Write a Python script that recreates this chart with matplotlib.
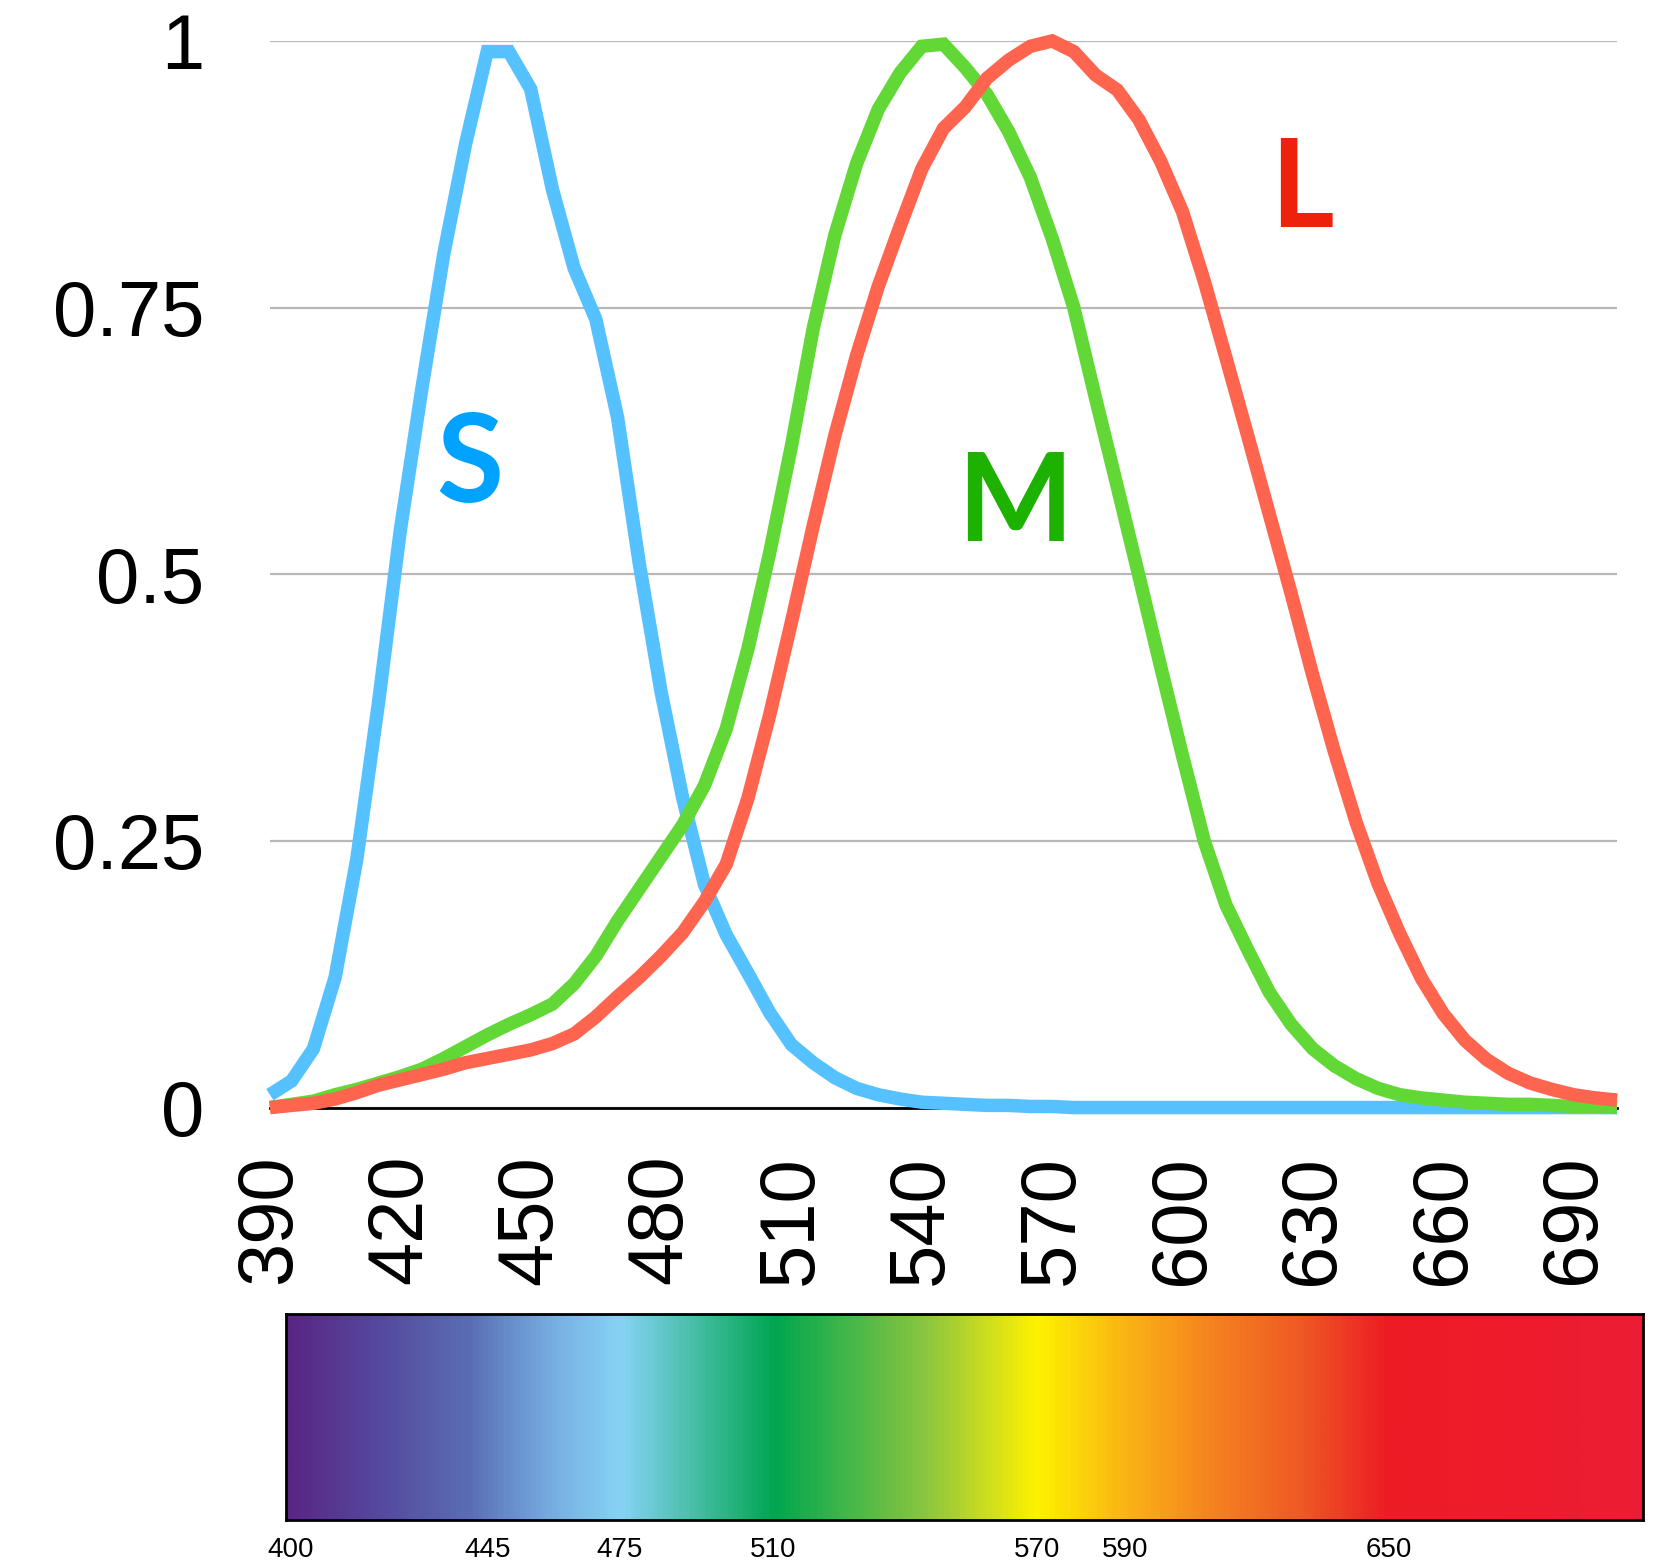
import numpy as np
import matplotlib
matplotlib.use("Agg")
import matplotlib.pyplot as plt
from matplotlib.colors import LinearSegmentedColormap

# wavelength categories (nm), one point every 5 nm
wavelengths = list(range(390, 705, 5))

s_cone = [0.012, 0.025, 0.055, 0.122, 0.233, 0.380, 0.541, 0.675, 0.800, 0.903,
          0.990, 0.990, 0.955, 0.861, 0.787, 0.739, 0.647, 0.510, 0.390, 0.290,
          0.209, 0.162, 0.126, 0.089, 0.059, 0.042, 0.028, 0.018, 0.012, 0.008,
          0.005, 0.004, 0.003, 0.002, 0.002, 0.001, 0.001, 0.0, 0.0, 0.0,
          0.0, 0.0, 0.0, 0.0, 0.0, 0.0, 0.0, 0.0, 0.0, 0.0,
          0.0, 0.0, 0.0, 0.0, 0.0, 0.0, 0.0, 0.0, 0.0, 0.0,
          0.0, 0.0, 0.0]

m_cone = [0.0, 0.003, 0.006, 0.012, 0.017, 0.023, 0.029, 0.036, 0.046, 0.057,
          0.068, 0.078, 0.087, 0.097, 0.116, 0.142, 0.175, 0.205, 0.235, 0.265,
          0.302, 0.355, 0.430, 0.520, 0.620, 0.730, 0.818, 0.885, 0.936, 0.970,
          0.995, 0.997, 0.975, 0.950, 0.915, 0.872, 0.815, 0.750, 0.665, 0.582,
          0.498, 0.413, 0.330, 0.250, 0.190, 0.148, 0.108, 0.078, 0.055, 0.039,
          0.027, 0.018, 0.012, 0.009, 0.007, 0.005, 0.004, 0.003, 0.003, 0.002,
          0.001, 0.001, 0.0]

l_cone = [0.0, 0.002, 0.004, 0.008, 0.014, 0.021, 0.026, 0.031, 0.036, 0.042,
          0.046, 0.050, 0.054, 0.060, 0.069, 0.085, 0.104, 0.122, 0.142, 0.164,
          0.193, 0.228, 0.290, 0.368, 0.455, 0.545, 0.630, 0.705, 0.770, 0.826,
          0.880, 0.918, 0.938, 0.965, 0.982, 0.995, 1.000, 0.990, 0.968, 0.954,
          0.926, 0.887, 0.840, 0.775, 0.703, 0.630, 0.556, 0.482, 0.405, 0.333,
          0.267, 0.210, 0.163, 0.121, 0.088, 0.063, 0.045, 0.032, 0.023, 0.017,
          0.012, 0.009, 0.007]

x_ticks = [390, 420, 450, 480, 510, 540, 570, 600, 630, 660, 690]
y_ticks = [0, 0.25, 0.5, 0.75, 1]
y_labels = ["0", "0.25", "0.5", "0.75", "1"]

# spectrum strip
spec_ticks = [400, 445, 475, 510, 570, 590, 650]
spec_stops = [399, 420, 440, 460, 475, 490, 510, 525, 545, 560, 570, 590, 610, 630, 650, 708]
spec_colors = ["#5A2584", "#554A9E", "#5A6DB4", "#78B0E3", "#86D3F5", "#4DC0AE",
               "#00A650", "#3CB54A", "#8DC63F", "#D4E01A", "#FFF200", "#FAB515",
               "#F58220", "#EF5A24", "#ED1C24", "#EC1C35"]

fig = plt.figure(figsize=(16.59, 15.63), dpi=100)
ax = fig.add_axes([0.1627, 0.2914, 0.812, 0.6824])

line_kw = dict(lw=9.7, solid_joinstyle='miter', solid_capstyle='butt', clip_on=False)
ax.plot(wavelengths, s_cone, color='#56C1FF', zorder=3, **line_kw)
ax.plot(wavelengths, m_cone, color='#61D836', zorder=4, **line_kw)
ax.plot(wavelengths, l_cone, color='#FF644E', zorder=5, **line_kw)

lab_kw = dict(fontsize=88, fontweight='bold', family=['Lato', 'DejaVu Sans'],
              ha='center', va='baseline')
ax.text(436, 0.568, "S", color='#00A2FF', **lab_kw)
ax.text(561.5, 0.531, "M", color='#1DB100', **lab_kw)
ax.text(627.4, 0.826, "L", color='#EE220C', **lab_kw)

ax.set_xlim(390, 700)
ax.set_ylim(0, 1)
ax.set_xticks(x_ticks)
ax.set_xticklabels([str(t) for t in x_ticks], rotation=90, family='Liberation Sans')
ax.set_yticks(y_ticks)
ax.set_yticklabels(y_labels, family='Liberation Sans')
ax.tick_params(length=0, labelsize=56)
ax.tick_params(axis='x', pad=34)
ax.tick_params(axis='y', pad=47)

ax.set_axisbelow(True)
ax.yaxis.grid(True, color='#B8B8B8', lw=1.6)
for side in ['top', 'left', 'right']:
    ax.spines[side].set_visible(False)
ax.spines['bottom'].set_color('black')
ax.spines['bottom'].set_linewidth(2)

# colour spectrum bar
ax2 = fig.add_axes([0.1724, 0.0275, 0.818, 0.1318])
pos = [(w - spec_stops[0]) / (spec_stops[-1] - spec_stops[0]) for w in spec_stops]
cmap = LinearSegmentedColormap.from_list("spec", list(zip(pos, spec_colors)))
ax2.imshow(np.linspace(0, 1, 800)[None, :], extent=[spec_stops[0], spec_stops[-1], 0, 1],
           aspect='auto', cmap=cmap)
ax2.set_xlim(spec_stops[0], spec_stops[-1])
ax2.set_ylim(0, 1)
ax2.set_yticks([])
ax2.set_xticks(spec_ticks)
ax2.set_xticklabels([str(t) for t in spec_ticks], family='Liberation Sans')
ax2.tick_params(length=0, labelsize=20, pad=12)
for sp in ax2.spines.values():
    sp.set_color('black')
    sp.set_linewidth(2)

fig.savefig("out.png", dpi=100)
